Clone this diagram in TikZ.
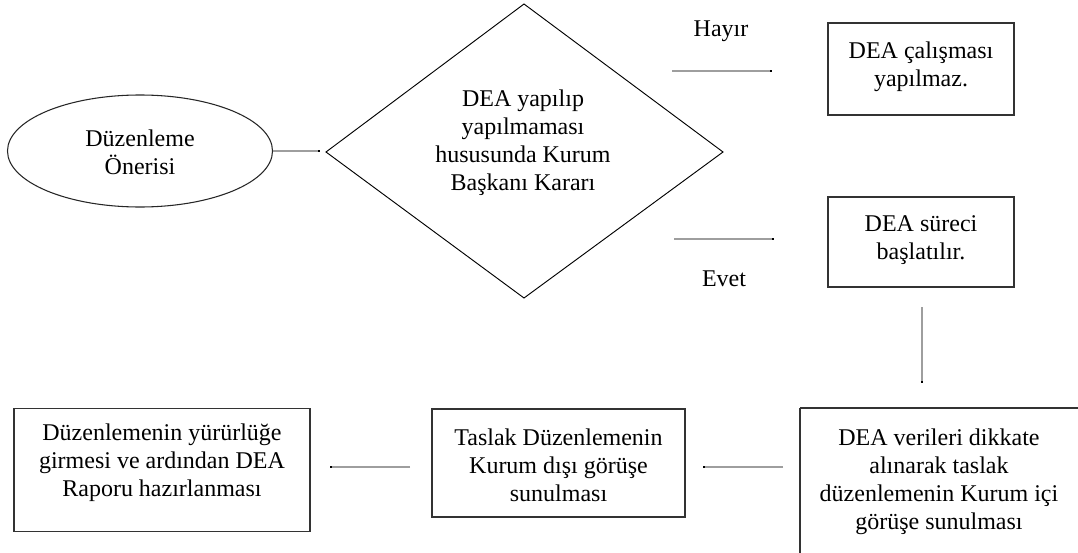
\documentclass[tikz,border=0pt]{standalone}
\usepackage{fontspec}
\setmainfont{Liberation Serif}
\usetikzlibrary{shapes.geometric,arrows.meta}
\tikzset{
  every node/.style={font=\fontsize{18pt}{21pt}\selectfont, align=center, inner sep=0pt},
  box/.style={draw=black!80, line width=0.9pt},
  conn/.style={draw=black!38, line width=0.8pt, -{Square[length=1.6pt,width=1.6pt,color=black]}},
  lbl/.style={}
}
\begin{document}
\begin{tikzpicture}[x=0.75pt,y=-0.75pt]
\useasboundingbox (0,0) rectangle (1078,553);
\clip (0,0) rectangle (1078,553);
% start ellipse
\node[ellipse, draw=black!85, line width=0.8pt, minimum width=265*0.75pt, minimum height=112*0.75pt] (ell) at (140,151) {};
\node (ellt) at (140,152) {Düzenleme\\Önerisi};
% decision diamond
\coordinate (dL) at (326,152);
\coordinate (dT) at (524,4);
\coordinate (dR) at (723,152);
\coordinate (dB) at (524,298);
\draw[black, line width=0.7pt] (dL) -- (dT) -- (dR) -- (dB) -- cycle;
\node (dia) at (523,143) {DEA yapılıp\\yapılmaması\\hususunda Kurum\\Başkanı Kararı};
% right boxes
\node[box, minimum width=186*0.75pt, minimum height=92*0.75pt] (b1) at (921,69) {};
\node (b1t) at (921,67) {DEA çalışması\\yapılmaz.};
\node[box, minimum width=186*0.75pt, minimum height=90*0.75pt] (b2) at (921,242) {};
\node (b2t) at (921,240) {DEA süreci\\başlatılır.};
% labels
\node[lbl] (hayir) at (721,31) {Hayır};
\node[lbl] (evet) at (724,279) {Evet};
% bottom boxes
\draw[box] (800,408) -- (1090,408) (800,408) -- (800,560);
\node (b5) at (939,482) {DEA verileri dikkate\\alınarak taslak\\düzenlemenin Kurum içi\\görüşe sunulması};
\node[box, minimum width=253*0.75pt, minimum height=108*0.75pt] (b4) at (558.5,463) {};
\node (b4t) at (558.5,465) {Taslak Düzenlemenin\\Kurum dışı görüşe\\sunulması};
\node[box, minimum width=296*0.75pt, minimum height=123*0.75pt] (b3) at (162,470) {};
\node (b3t) at (162,463) {Düzenlemenin yürürlüğe\\girmesi ve ardından DEA\\Raporu hazırlanması};
% connector ends
\coordinate (c1a) at (273,151); \coordinate (c1b) at (320,151);
\coordinate (c2a) at (672,71);  \coordinate (c2b) at (772,71);
\coordinate (c3a) at (674,239); \coordinate (c3b) at (774,239);
\coordinate (c4a) at (922,307); \coordinate (c4b) at (922,383);
\coordinate (c5a) at (783,467); \coordinate (c5b) at (703,467);
\coordinate (c6a) at (410,467); \coordinate (c6b) at (330,467);
\draw[conn] (c1a) -- (c1b);
\draw[conn] (c2a) -- (c2b);
\draw[conn] (c3a) -- (c3b);
\draw[conn] (c4a) -- (c4b);
\draw[conn] (c5a) -- (c5b);
\draw[conn] (c6a) -- (c6b);
\end{tikzpicture}
\end{document}
